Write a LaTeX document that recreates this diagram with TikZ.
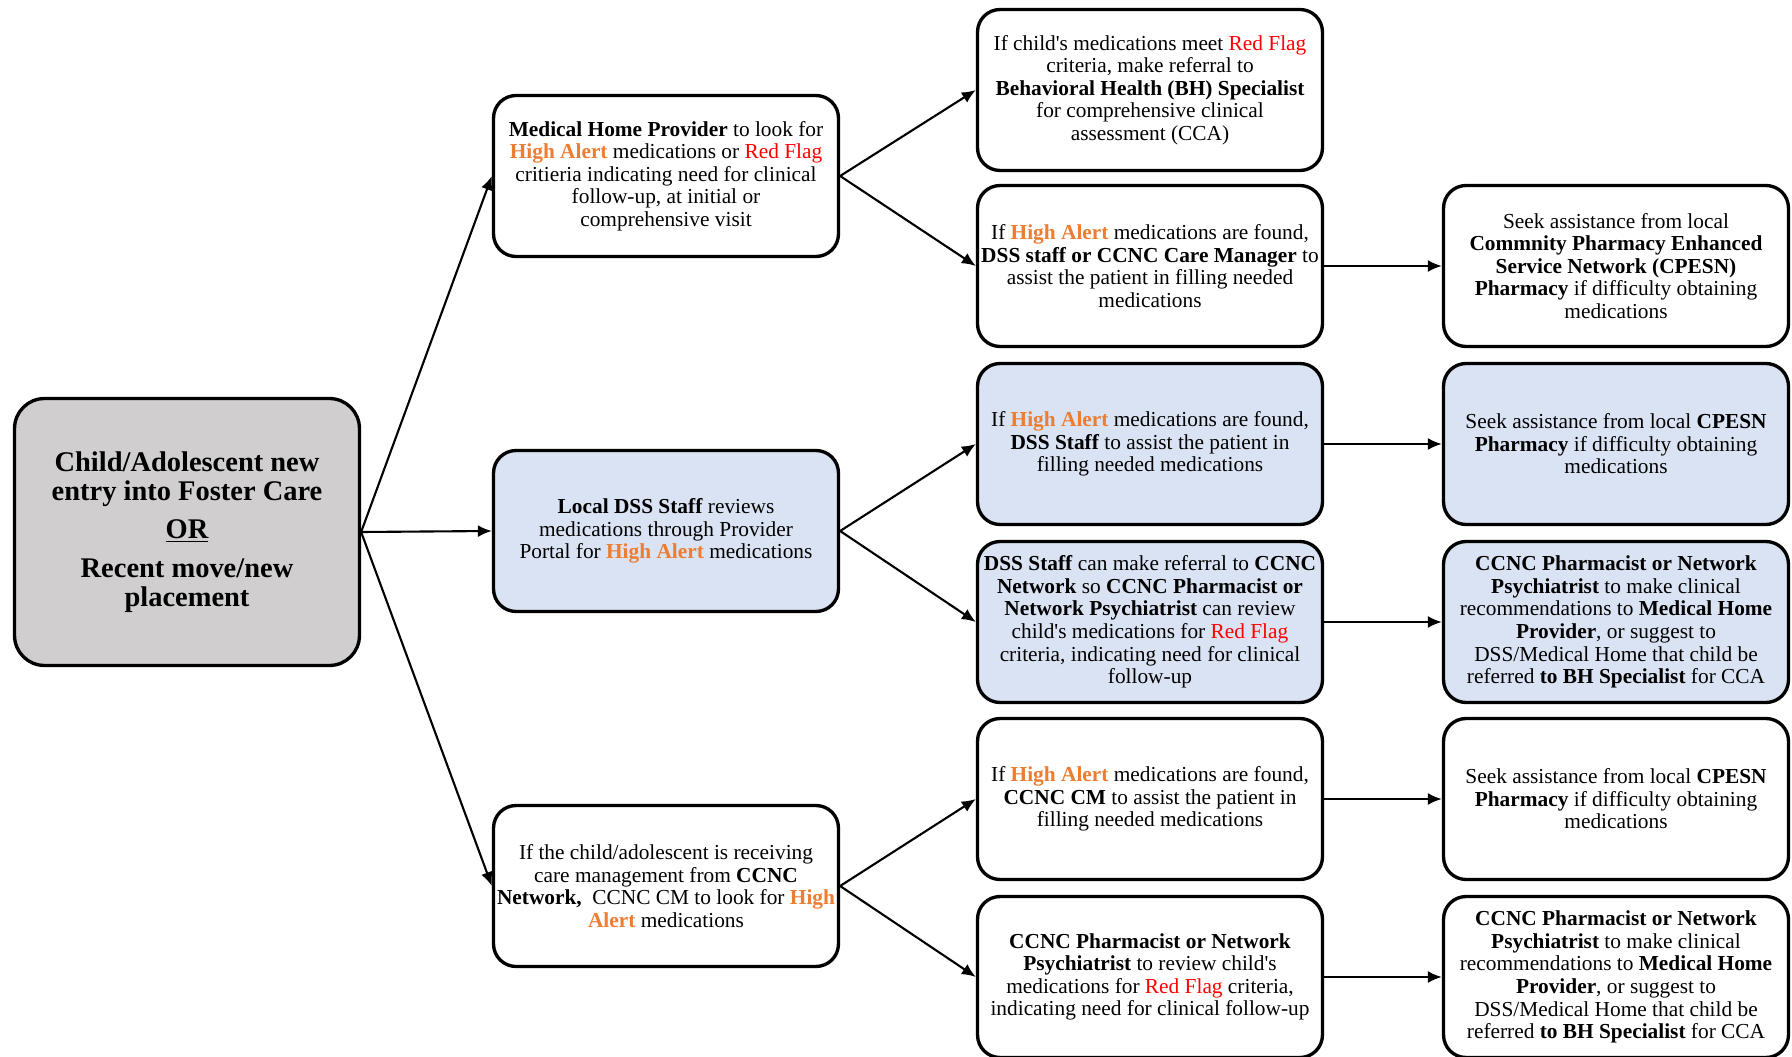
\documentclass[tikz,border=0pt]{standalone}
\usepackage{fontspec}
\setmainfont{Liberation Serif}
\usepackage{xcolor}
\usetikzlibrary{positioning,arrows.meta}

\definecolor{alertorange}{HTML}{ED7D31}
\definecolor{flagred}{HTML}{FF0000}
\definecolor{dssblue}{HTML}{DAE3F3}
\definecolor{rootgray}{HTML}{D0CECE}

\newcommand{\highalert}[1]{\textcolor{alertorange}{\textbf{#1}}}
\newcommand{\redflag}[1]{\textcolor{flagred}{#1}}

\tikzset{
  flowbox/.style={rectangle, rounded corners=0.45cm, draw=black, line width=1.9pt, fill=white, minimum width=6.9cm, minimum height=3.22cm, align=center, inner sep=1pt, font=\fontsize{12.15}{12.85}\selectfont},
  bluebox/.style={flowbox, fill=dssblue},
  rootbox/.style={flowbox, fill=rootgray, minimum height=5.34cm, rounded corners=0.6cm, font=\fontsize{16.2}{16.4}\selectfont\bfseries},
  flowarrow/.style={-{Latex[length=0.28cm,width=0.24cm]}, line width=1.2pt}
}

\begin{document}
\begin{tikzpicture}[x=0.02cm, y=-0.02cm]
    \useasboundingbox (0,0) rectangle (1792,1057);

    % Starting node
    \node[rootbox] (entry) at (187,532) {Child/Adolescent new\\entry into Foster Care\\[0.2cm]\underline{OR}\\[0.2cm]Recent move/new\\placement};

    % Who looks at the medications
    \node[flowbox] (medhome) at (666,176) {\textbf{Medical Home Provider} to look for\\\highalert{High Alert} medications or \redflag{Red Flag}\\critieria indicating need for clinical\\follow-up, at initial or\\comprehensive visit};

    \node[bluebox] (dss) at (666,531) {\textbf{Local DSS Staff} reviews\\medications through Provider\\Portal for \highalert{High Alert} medications};

    \node[flowbox] (ccnc) at (666,886) {If the child/adolescent is receiving\\care management from \textbf{CCNC}\\\textbf{Network,}~ CCNC CM to look for \highalert{High}\\\highalert{Alert} medications};

    % Follow-up steps
    \node[flowbox] (bhref) at (1150,90) {If child\textquotesingle s medications meet \redflag{Red Flag}\\criteria, make referral to\\\textbf{Behavioral Health (BH) Specialist}\\for comprehensive clinical\\assessment (CCA)};

    \node[flowbox] (fillone) at (1150,266) {If \highalert{High Alert} medications are found,\\\textbf{DSS staff or CCNC Care Manager} to\\assist the patient in filling needed\\medications};

    \node[bluebox] (filltwo) at (1150,444) {If \highalert{High Alert} medications are found,\\\textbf{DSS Staff} to assist the patient in\\filling needed medications};

    \node[bluebox] (dssref) at (1150,622) {\textbf{DSS Staff} can make referral to \textbf{CCNC}\\\textbf{Network} so \textbf{CCNC Pharmacist or}\\\textbf{Network Psychiatrist} can review\\child\textquotesingle s medications for \redflag{Red Flag}\\criteria, indicating need for clinical\\follow-up};

    \node[flowbox] (fillthree) at (1150,799) {If \highalert{High Alert} medications are found,\\\textbf{CCNC CM} to assist the patient in\\filling needed medications};

    \node[flowbox] (review) at (1150,977) {\textbf{CCNC Pharmacist or Network}\\\textbf{Psychiatrist} to review child\textquotesingle s\\medications for \redflag{Red Flag} criteria,\\indicating need for clinical follow-up};

    % Last column
    \node[flowbox] (cpesnone) at (1616,266) {Seek assistance from local\\\textbf{Commnity Pharmacy Enhanced}\\\textbf{Service Network (CPESN)}\\\textbf{Pharmacy} if difficulty obtaining\\medications};

    \node[bluebox] (cpesntwo) at (1616,444) {Seek assistance from local \textbf{CPESN}\\\textbf{Pharmacy} if difficulty obtaining\\medications};

    \node[bluebox] (recone) at (1616,622) {\textbf{CCNC Pharmacist or Network}\\\textbf{Psychiatrist} to make clinical\\recommendations to \textbf{Medical Home}\\\textbf{Provider}, or suggest to\\DSS/Medical Home that child be\\referred \textbf{to BH Specialist} for CCA};

    \node[flowbox] (cpesnthree) at (1616,799) {Seek assistance from local \textbf{CPESN}\\\textbf{Pharmacy} if difficulty obtaining\\medications};

    \node[flowbox] (rectwo) at (1616,977) {\textbf{CCNC Pharmacist or Network}\\\textbf{Psychiatrist} to make clinical\\recommendations to \textbf{Medical Home}\\\textbf{Provider}, or suggest to\\DSS/Medical Home that child be\\referred \textbf{to BH Specialist} for CCA};

    % Arrows
    \draw[flowarrow] (entry.east) -- (medhome.west);
    \draw[flowarrow] (entry.east) -- (dss.west);
    \draw[flowarrow] (entry.east) -- (ccnc.west);

    \draw[flowarrow] (medhome.east) -- (bhref.west);
    \draw[flowarrow] (medhome.east) -- (fillone.west);
    \draw[flowarrow] (dss.east) -- (filltwo.west);
    \draw[flowarrow] (dss.east) -- (dssref.west);
    \draw[flowarrow] (ccnc.east) -- (fillthree.west);
    \draw[flowarrow] (ccnc.east) -- (review.west);

    \draw[flowarrow] (fillone.east) -- (cpesnone.west);
    \draw[flowarrow] (filltwo.east) -- (cpesntwo.west);
    \draw[flowarrow] (dssref.east) -- (recone.west);
    \draw[flowarrow] (fillthree.east) -- (cpesnthree.west);
    \draw[flowarrow] (review.east) -- (rectwo.west);
\end{tikzpicture}
\end{document}
